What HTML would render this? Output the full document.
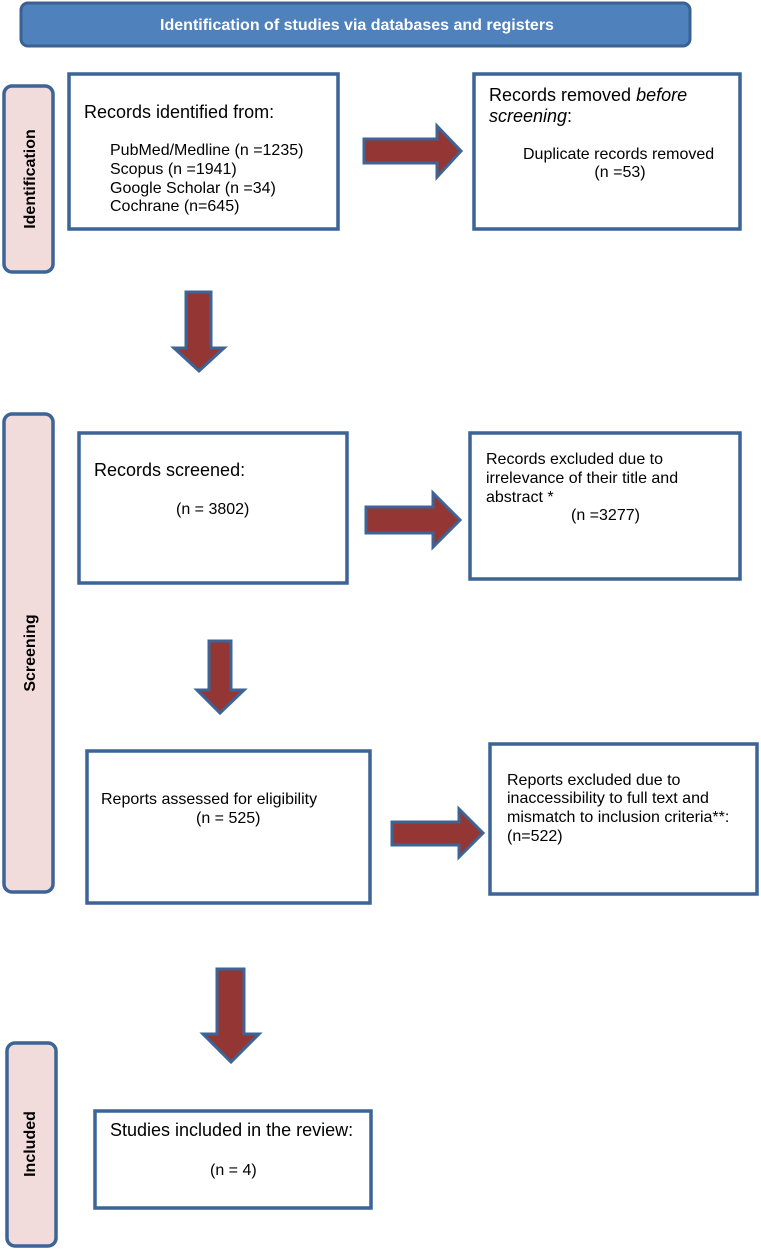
<!DOCTYPE html>
<html><head><meta charset="utf-8"><style>
html,body{margin:0;padding:0;background:#fff}
svg{display:block}
text{font-family:"Liberation Sans",Arial,sans-serif;font-size:16px;fill:#000}
.s{fill:#fff;stroke:#3c6496;stroke-width:3.5}
.a{fill:#943634;stroke:#3c6496;stroke-width:3;stroke-linejoin:miter}
.side{fill:#f2dcdb;stroke:#3c6496;stroke-width:3.5}
.lbl{font-weight:bold;font-size:16px}
.h{font-size:18px}
</style></head><body>
<svg width="761" height="1249" viewBox="0 0 761 1249" xmlns="http://www.w3.org/2000/svg">
<rect x="21" y="3" width="669" height="43" rx="7" fill="#4f81bd" stroke="#3a6191" stroke-width="3"/>
<text x="357" y="30" text-anchor="middle" style="fill:#fff;font-weight:bold;font-size:16px">Identification of studies via databases and registers</text>

<rect class="side" x="4" y="86" width="49" height="186" rx="8"/>
<text class="lbl" transform="translate(35,179) rotate(-90)" text-anchor="middle">Identification</text>
<rect class="side" x="4" y="414" width="49" height="478" rx="8"/>
<text class="lbl" transform="translate(35,653) rotate(-90)" text-anchor="middle">Screening</text>
<rect class="side" x="7" y="1043" width="49" height="203" rx="8"/>
<text class="lbl" transform="translate(35,1144) rotate(-90)" text-anchor="middle">Included</text>

<rect class="s" x="69" y="74" width="269" height="155"/>
<text class="h" x="84" y="118">Records identified from:</text>
<text x="110" y="155">PubMed/Medline (n =1235)</text>
<text x="110" y="174">Scopus (n =1941)</text>
<text x="110" y="193">Google Scholar (n =34)</text>
<text x="110" y="211">Cochrane (n=645)</text>

<rect class="s" x="474" y="74" width="266" height="155"/>
<text class="h" x="489" y="101">Records removed <tspan font-style="italic">before</tspan></text>
<text class="h" x="489" y="122"><tspan font-style="italic">screening</tspan>:</text>
<text x="523" y="159">Duplicate records removed</text>
<text x="620" y="177" text-anchor="middle">(n =53)</text>

<polygon class="a" points="364,139 437,139 437,126 461,151 437,177 437,163 364,163"/>
<polygon class="a" points="186,292 211,292 211,348 224,348 199,371 174,348 186,348"/>

<rect class="s" x="79" y="433" width="268" height="150"/>
<text class="h" x="94" y="476">Records screened:</text>
<text x="176" y="514">(n = 3802)</text>

<rect class="s" x="470" y="433" width="270" height="146"/>
<text x="486" y="464">Records excluded due to</text>
<text x="486" y="483">irrelevance of their title and</text>
<text x="486" y="502">abstract *</text>
<text x="571" y="520">(n =3277)</text>

<polygon class="a" points="366,507 433,507 433,493 460,520 433,547 433,533 366,533"/>
<polygon class="a" points="209,641 231,641 231,690 244,690 220,713 197,690 209,690"/>

<rect class="s" x="87" y="751" width="283" height="152"/>
<text x="101" y="804">Reports assessed for eligibility</text>
<text x="196" y="823">(n = 525)</text>

<rect class="s" x="490" y="744" width="267" height="150"/>
<text x="507" y="785"> Reports excluded due to</text>
<text x="507" y="803">inaccessibility to full text and</text>
<text x="507" y="822">mismatch to inclusion criteria**:</text>
<text x="507" y="841">(n=522)</text>

<polygon class="a" points="392,822 459,822 459,809 483,833 459,857 459,845 392,845"/>
<polygon class="a" points="217,969 244,969 244,1034 259,1034 231,1062 203,1034 217,1034"/>

<rect class="s" x="95" y="1111" width="276" height="97"/>
<text class="h" x="110" y="1136">Studies included in the review:</text>
<text x="210" y="1175">(n = 4)</text>
</svg>
</body></html>
